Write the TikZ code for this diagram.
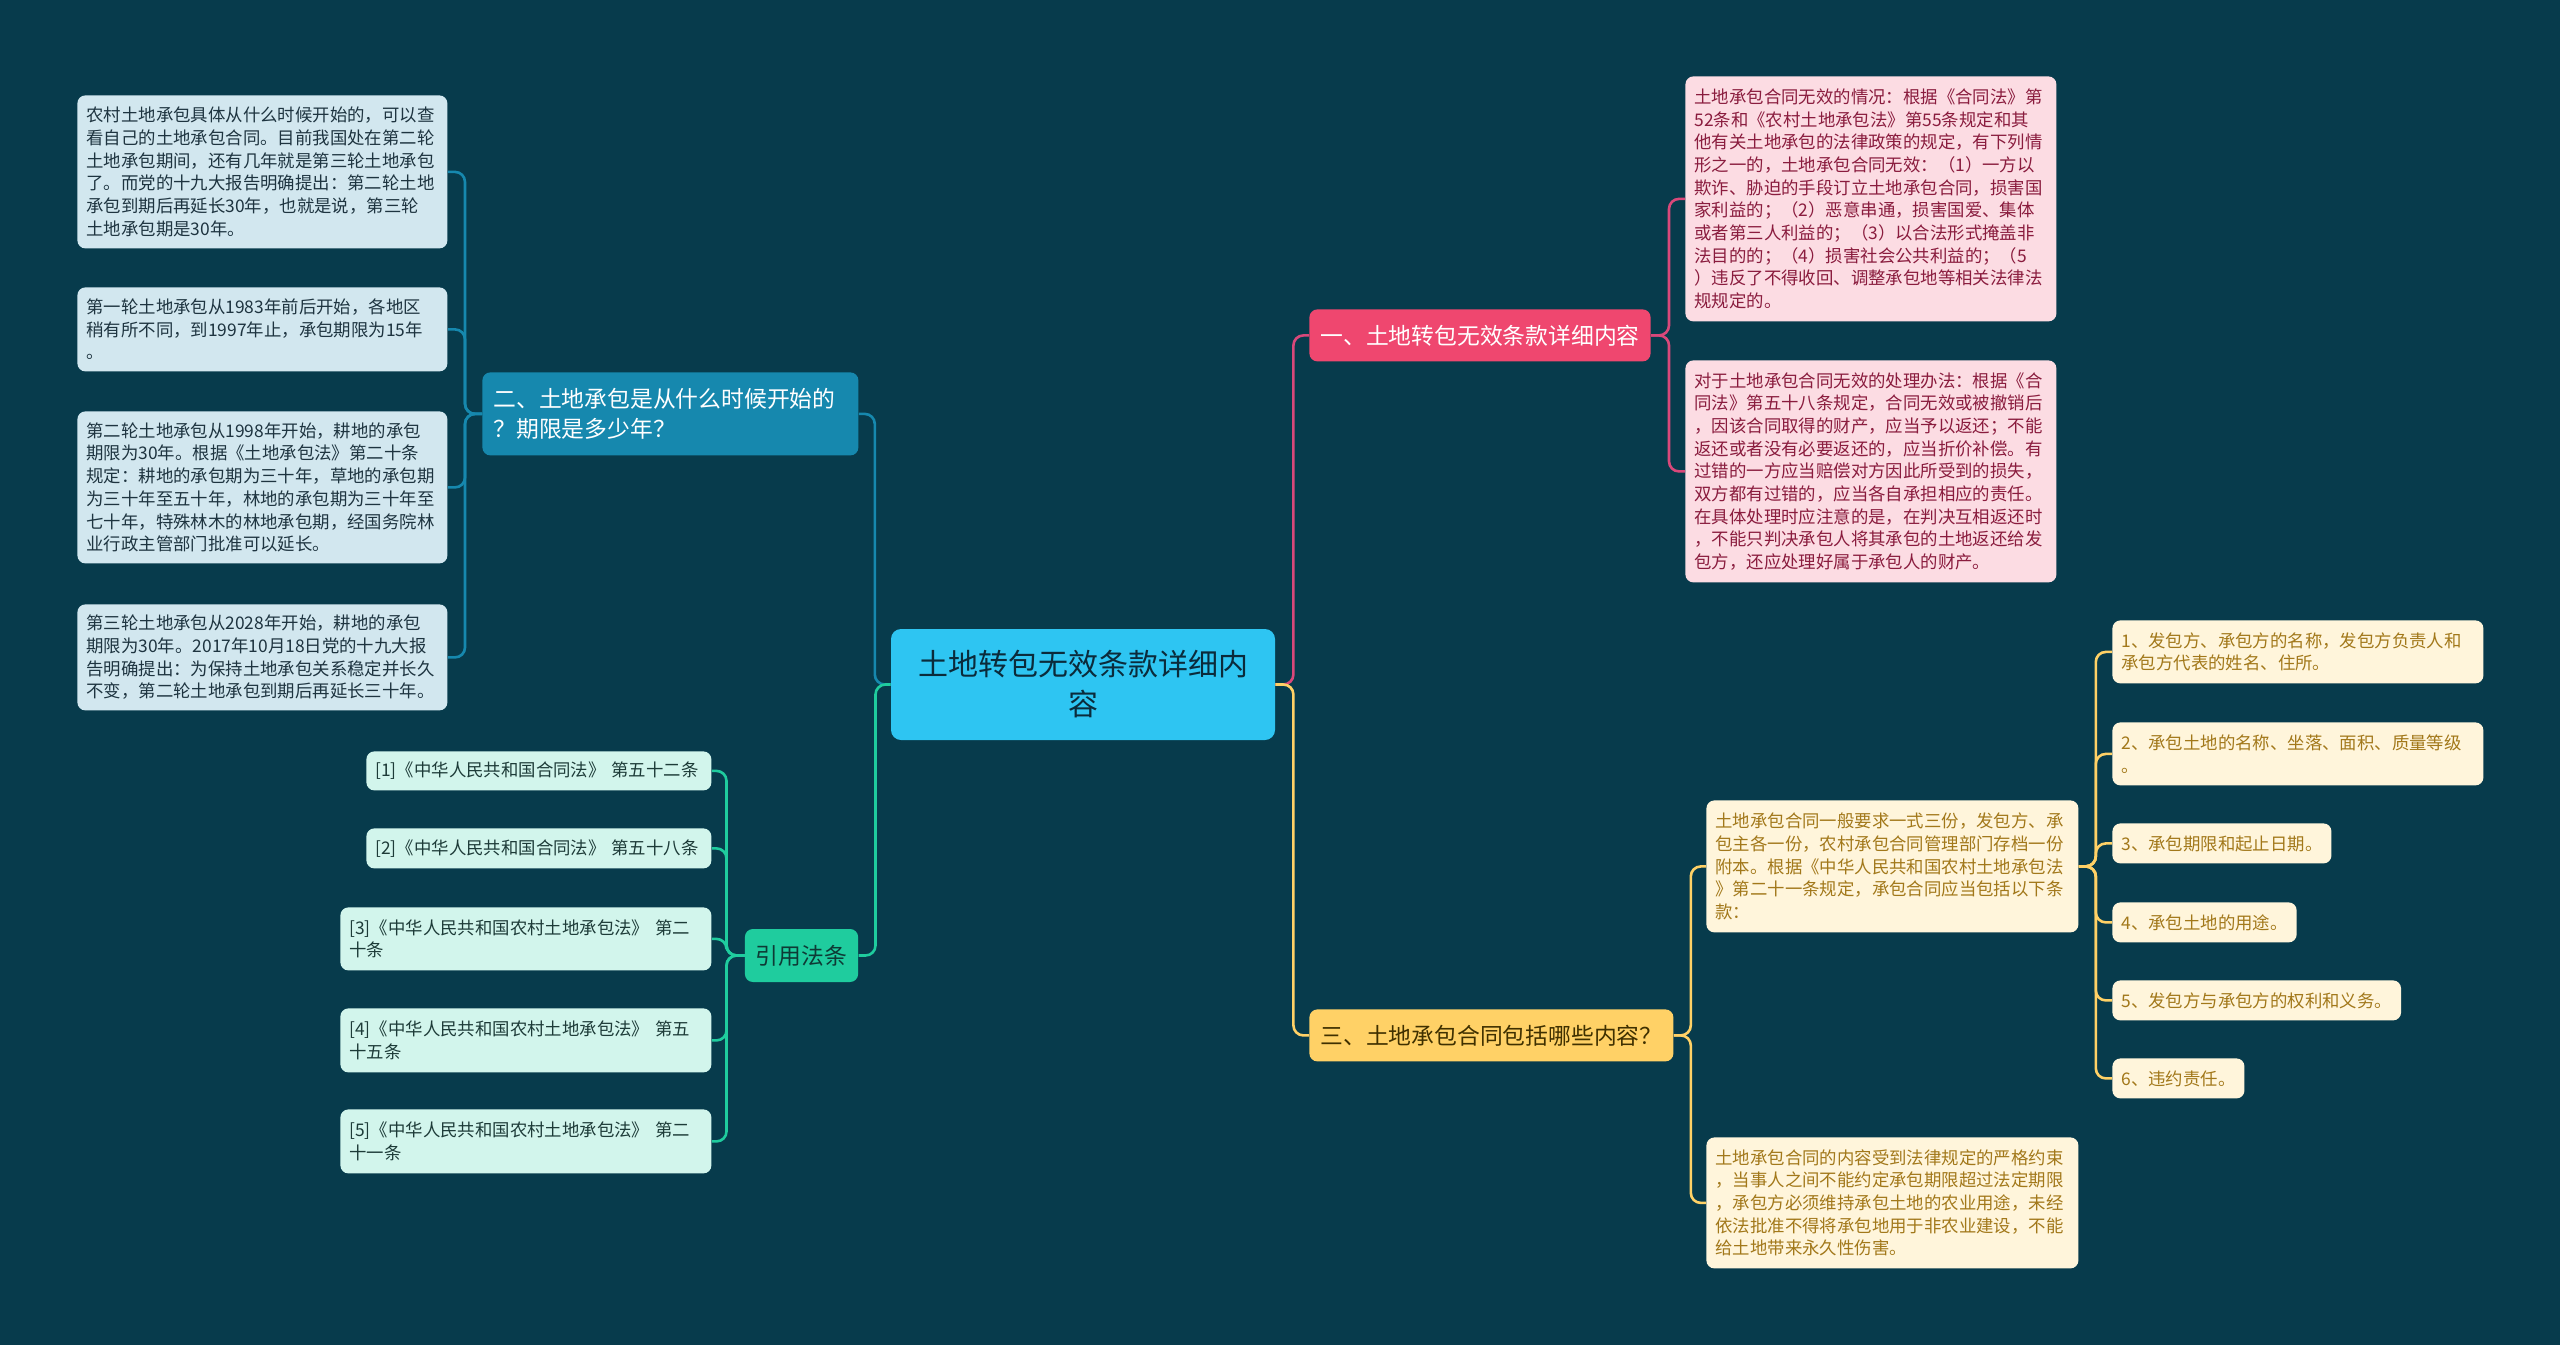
\documentclass[tikz,border=0pt]{standalone}
\usepackage{fontspec}
\setmainfont{Noto Sans CJK SC}
\definecolor{bg}{HTML}{073B4C}
\definecolor{cenFill}{HTML}{2EC5F2}
\definecolor{cenText}{HTML}{0B2B3B}
\definecolor{blueMain}{HTML}{1688AE}
\definecolor{aFill}{HTML}{D2E7EF}
\definecolor{aText}{HTML}{1E3440}
\definecolor{greenMain}{HTML}{1FCC9E}
\definecolor{greenText}{HTML}{0E3A35}
\definecolor{eFill}{HTML}{D2F5EC}
\definecolor{eText}{HTML}{1D3B38}
\definecolor{pinkMain}{HTML}{EF476F}
\definecolor{pinkLine}{HTML}{D9487A}
\definecolor{bFill}{HTML}{FCDCE3}
\definecolor{bText}{HTML}{8A1C3E}
\definecolor{yelMain}{HTML}{FFD166}
\definecolor{yelText}{HTML}{3F3000}
\definecolor{cFill}{HTML}{FFF5DB}
\definecolor{cText}{HTML}{A2781A}
\newcommand\leaffont{\fontsize{8.7pt}{11.35pt}\selectfont}
\newcommand\mainfont{\fontsize{11.4pt}{15pt}\selectfont}
\newcommand\cenfont{\fontsize{15pt}{20pt}\selectfont}
\tikzset{
  box/.style={rounded corners=4pt, inner xsep=4.5pt, inner ysep=0pt, align=left, font=\leaffont, anchor=north west},
  leafA/.style={box, fill=aFill, text=aText},
  leafB/.style={box, fill=bFill, text=bText},
  leafC/.style={box, fill=cFill, text=cText},
  leafE/.style={box, fill=eFill, text=eText},
  mainbox/.style={rounded corners=4pt, inner xsep=5.5pt, inner ysep=0pt, font=\mainfont},
  conn/.style={line width=1.3pt, rounded corners=5pt},
}
\begin{document}
\begin{tikzpicture}[x=0.5pt,y=-0.5pt]
\useasboundingbox (0,0) rectangle (2560,1345);
\fill[bg] (0,0) rectangle (2560,1345);

% central
\node[fill=cenFill, text=cenText, rounded corners=5pt, font=\cenfont, align=center,
      minimum width=192pt, minimum height=55.5pt, inner sep=0pt] (c) at (1083,684.5)
      {土地转包无效条款详细内\\容};

% left main branches
\node[mainbox, fill=blueMain, text=white, anchor=north west, align=left,
      text width=177pt, minimum height=41.5pt] (l1) at (482,372)
      {二、土地承包是从什么时候开始的\\？期限是多少年？};
\node[mainbox, fill=greenMain, text=greenText, align=center,
      minimum width=56.5pt, minimum height=26.5pt] (yy) at (801.5,955.5) {引用法条};

% right main branches
\node[mainbox, fill=pinkMain, text=white, anchor=north west,
      minimum height=26pt] (r1) at (1309,309) {一、土地转包无效条款详细内容};
\node[mainbox, fill=yelMain, text=yelText, anchor=north west,
      minimum height=26pt] (r3) at (1309,1009) {三、土地承包合同包括哪些内容？};

% A leaves
\node[leafA, text width=176pt, minimum height=76.5pt] (a1) at (77,95)
 {农村土地承包具体从什么时候开始的，可以查\\看自己的土地承包合同。目前我国处在第二轮\\土地承包期间，还有几年就是第三轮土地承包\\了。而党的十九大报告明确提出：第二轮土地\\承包到期后再延长30年，也就是说，第三轮\\土地承包期是30年。};
\node[leafA, text width=176pt, minimum height=42pt] (a2) at (77,287)
 {第一轮土地承包从1983年前后开始，各地区\\稍有所不同，到1997年止，承包期限为15年\\。};
\node[leafA, text width=176pt, minimum height=76pt] (a3) at (77,411)
 {第二轮土地承包从1998年开始，耕地的承包\\期限为30年。根据《土地承包法》第二十条\\规定：耕地的承包期为三十年，草地的承包期\\为三十年至五十年，林地的承包期为三十年至\\七十年，特殊林木的林地承包期，经国务院林\\业行政主管部门批准可以延长。};
\node[leafA, text width=176pt, minimum height=53pt] (a4) at (77,604)
 {第三轮土地承包从2028年开始，耕地的承包\\期限为30年。2017年10月18日党的十九大报\\告明确提出：为保持土地承包关系稳定并长久\\不变，第二轮土地承包到期后再延长三十年。};

% E leaves
\node[leafE, text width=163.5pt, minimum height=19.5pt] (e1) at (366,751) {[1]《中华人民共和国合同法》 第五十二条};
\node[leafE, text width=163.5pt, minimum height=20pt] (e2) at (366,828) {[2]《中华人民共和国合同法》 第五十八条};
\node[leafE, text width=176.5pt, minimum height=31.5pt] (e3) at (340,907)
 {[3]《中华人民共和国农村土地承包法》 第二\\十条};
\node[leafE, text width=176.5pt, minimum height=32pt] (e4) at (340,1008)
 {[4]《中华人民共和国农村土地承包法》 第五\\十五条};
\node[leafE, text width=176.5pt, minimum height=32pt] (e5) at (340,1109)
 {[5]《中华人民共和国农村土地承包法》 第二\\十一条};

% B leaves
\node[leafB, text width=176.5pt, minimum height=122.5pt] (b1) at (1685,76)
 {土地承包合同无效的情况：根据《合同法》第\\52条和《农村土地承包法》第55条规定和其\\他有关土地承包的法律政策的规定，有下列情\\形之一的，土地承包合同无效：（1）一方以\\欺诈、胁迫的手段订立土地承包合同，损害国\\家利益的；（2）恶意串通，损害国爱、集体\\或者第三人利益的；（3）以合法形式掩盖非\\法目的的；（4）损害社会公共利益的；（5\\）违反了不得收回、调整承包地等相关法律法\\规规定的。};
\node[leafB, text width=176.5pt, minimum height=111pt] (b2) at (1685,360)
 {对于土地承包合同无效的处理办法：根据《合\\同法》第五十八条规定，合同无效或被撤销后\\，因该合同取得的财产，应当予以返还；不能\\返还或者没有必要返还的，应当折价补偿。有\\过错的一方应当赔偿对方因此所受到的损失，\\双方都有过错的，应当各自承担相应的责任。\\在具体处理时应注意的是，在判决互相返还时\\，不能只判决承包人将其承包的土地返还给发\\包方，还应处理好属于承包人的财产。};

% C leaves
\node[leafC, text width=177pt, minimum height=66pt] (c1) at (1706,800)
 {土地承包合同一般要求一式三份，发包方、承\\包主各一份，农村承包合同管理部门存档一份\\附本。根据《中华人民共和国农村土地承包法\\》第二十一条规定，承包合同应当包括以下条\\款：};
\node[leafC, text width=177pt, minimum height=65.5pt] (c2) at (1706,1137)
 {土地承包合同的内容受到法律规定的严格约束\\，当事人之间不能约定承包期限超过法定期限\\，承包方必须维持承包土地的农业用途，未经\\依法批准不得将承包地用于非农业建设，不能\\给土地带来永久性伤害。};

% D leaves
\node[leafC, text width=176.5pt, minimum height=31.5pt] (d1) at (2112,620)
 {1、发包方、承包方的名称，发包方负责人和\\承包方代表的姓名、住所。};
\node[leafC, text width=176.5pt, minimum height=31.5pt] (d2) at (2112,722)
 {2、承包土地的名称、坐落、面积、质量等级\\。};
\node[leafC, minimum height=20pt] (d3) at (2112,823) {3、承包期限和起止日期。};
\node[leafC, minimum height=20pt] (d4) at (2112,902) {4、承包土地的用途。};
\node[leafC, minimum height=20pt] (d5) at (2112,980) {5、发包方与承包方的权利和义务。};
\node[leafC, minimum height=20pt] (d6) at (2112,1058) {6、违约责任。};

% connectors: centre to main branches
\draw[conn, blueMain] (l1.east) -- ++(16,0) |- (c.west);
\draw[conn, greenMain] (yy.east) -- ++(17,0) |- (c.west);
\draw[conn, pinkLine] (c.east) -- ++(18,0) |- (r1.west);
\draw[conn, yelMain] (c.east) -- ++(18,0) |- (r3.west);

% left leaves
\foreach \n in {a1,a2,a3,a4}
  \draw[conn, blueMain] (l1.west) -- ++(-17,0) |- (\n.east);
\foreach \n in {e1,e2,e3,e4,e5}
  \draw[conn, greenMain] (yy.west) -- ++(-18,0) |- (\n.east);

% right leaves
\foreach \n in {b1,b2}
  \draw[conn, pinkLine] (r1.east) -- ++(18,0) |- (\n.west);
\foreach \n in {c1,c2}
  \draw[conn, yelMain] (r3.east) -- ++(17,0) |- (\n.west);
\foreach \n in {d1,d2,d3,d4,d5,d6}
  \draw[conn, yelMain] (c1.east) -- ++(17,0) |- (\n.west);
\end{tikzpicture}
\end{document}
